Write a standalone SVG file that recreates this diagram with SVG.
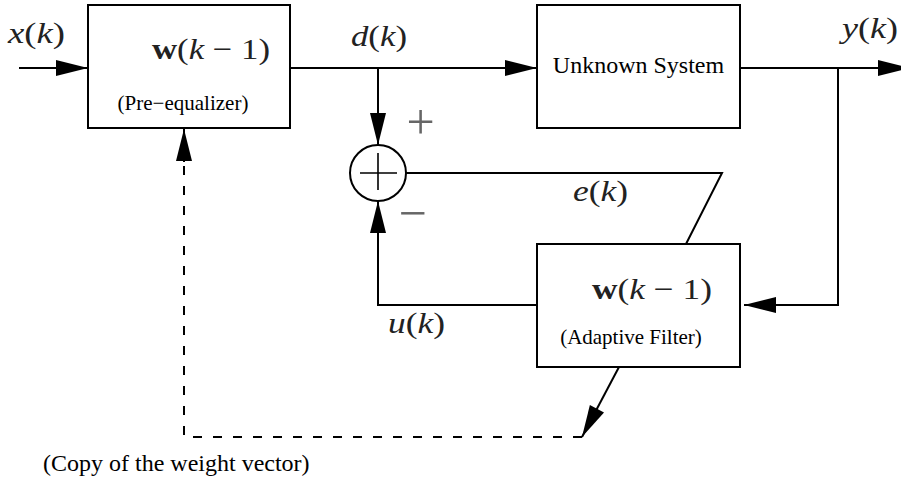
<svg xmlns="http://www.w3.org/2000/svg" width="901" height="483" viewBox="0 0 901 483">
<style>
.box{fill:#fff;stroke:#000;stroke-width:2}
.ln{fill:none;stroke:#000;stroke-width:2}
.dash{fill:none;stroke:#000;stroke-width:2;stroke-dasharray:9 11}
.thin{fill:none;stroke:#000;stroke-width:1.6}
text{font-family:'Liberation Serif',Tinos,'Times New Roman',Times,'DejaVu Serif',serif}
.txt{fill:#000}
.math{font-size:30px;fill:#222}
.it{font-style:italic}
.bf{font-weight:bold;font-style:normal}
.sign{font-size:50px;fill:#666}
</style>
<defs>
<marker id="ah" markerUnits="userSpaceOnUse" markerWidth="33" markerHeight="17" refX="32" refY="8" orient="auto" overflow="visible">
<path d="M0,0 L32,8 L0,16 Z" fill="#000"/>
</marker>
</defs>
<g id="connectors">
<path class="ln" d="M19,68 H88" marker-end="url(#ah)"/>
<path class="ln" d="M290,68 H537" marker-end="url(#ah)"/>
<path class="ln" d="M378,68 V145" marker-end="url(#ah)"/>
<path class="ln" d="M740,68 H910" marker-end="url(#ah)"/>
<path class="ln" d="M838,68 V305 H744" marker-end="url(#ah)"/>
<path class="ln" d="M537,305 H378 V201" marker-end="url(#ah)"/>
<path class="ln" d="M406,173 H722 L686,244"/>
<path class="ln" d="M619,367 L582,437" marker-end="url(#ah)"/>
<path class="dash" d="M582,437 H184 V129"/>
<path class="ln" d="M184,162 V129" marker-end="url(#ah)"/>
</g>
<g id="preequalizer">
<rect class="box" x="88" y="5" width="202" height="123"/>
<text class="math" x="152" y="59" textLength="118" lengthAdjust="spacingAndGlyphs"><tspan class="bf">w</tspan>(<tspan class="it">k</tspan> − 1)</text>
<text class="txt" x="183" y="110" font-size="21" text-anchor="middle">(Pre−equalizer)</text>
</g>
<g id="unknown">
<rect class="box" x="537" y="5" width="203" height="123"/>
<text class="txt" x="638.5" y="73" font-size="24" text-anchor="middle">Unknown System</text>
</g>
<g id="adaptive">
<rect class="box" x="537" y="244" width="203" height="123"/>
<text class="math" x="592" y="299" textLength="120" lengthAdjust="spacingAndGlyphs"><tspan class="bf">w</tspan>(<tspan class="it">k</tspan> − 1)</text>
<text class="txt" x="631" y="344" font-size="21" text-anchor="middle">(Adaptive Filter)</text>
</g>
<g id="sum">
<circle cx="378" cy="173" r="28" fill="#fff" stroke="#000" stroke-width="2"/>
<path class="thin" d="M360,173 H397 M378,153 V190"/>
</g>
<g id="labels">
<text class="math" x="8" y="42.5" textLength="57" lengthAdjust="spacingAndGlyphs"><tspan class="it">x</tspan>(<tspan class="it">k</tspan>)</text>
<text class="math" x="351" y="45.5" textLength="56" lengthAdjust="spacingAndGlyphs"><tspan class="it">d</tspan>(<tspan class="it">k</tspan>)</text>
<text class="math" x="842" y="37.5" textLength="56" lengthAdjust="spacingAndGlyphs"><tspan class="it">y</tspan>(<tspan class="it">k</tspan>)</text>
<text class="math" x="573" y="201" textLength="55" lengthAdjust="spacingAndGlyphs"><tspan class="it">e</tspan>(<tspan class="it">k</tspan>)</text>
<text class="math" x="388" y="333" textLength="57" lengthAdjust="spacingAndGlyphs"><tspan class="it">u</tspan>(<tspan class="it">k</tspan>)</text>
<text class="sign" x="420.5" y="139" text-anchor="middle">+</text>
<text class="sign" x="412.5" y="229.5" text-anchor="middle">−</text>
<text class="txt" x="43" y="471" font-size="24">(Copy of the weight vector)</text>
</g>
</svg>
